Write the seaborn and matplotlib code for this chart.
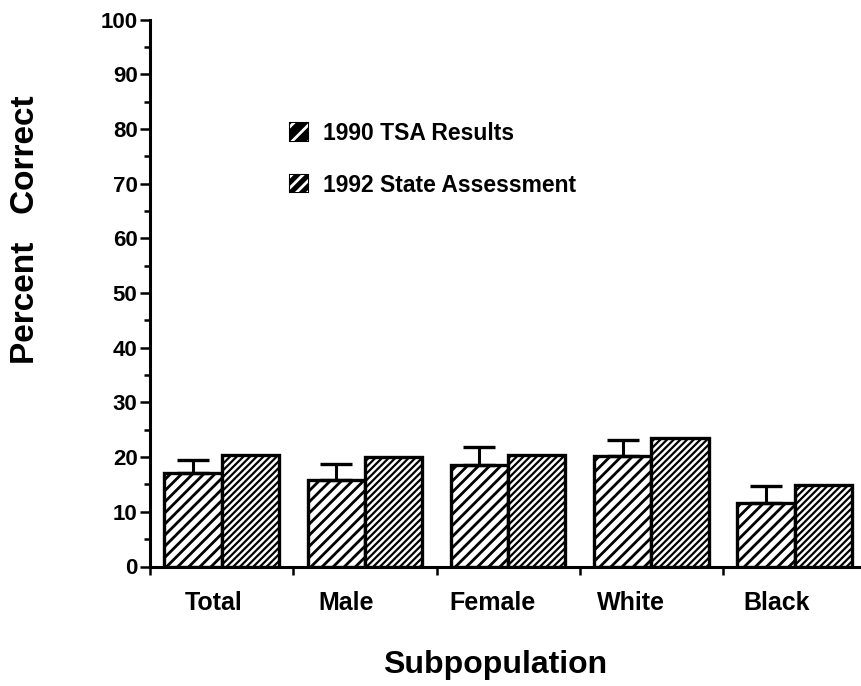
import numpy as np
import pandas as pd
import matplotlib
matplotlib.use("Agg")
import matplotlib.pyplot as plt
from matplotlib.patches import Patch
from matplotlib.legend_handler import HandlerTuple
from matplotlib.ticker import MultipleLocator, FixedLocator
import matplotlib.transforms as mtransforms
import seaborn as sns

# Percent correct by subpopulation
groups = ["Total", "Male", "Female", "White", "Black"]
series = ["1990 TSA Results", "1992 State Assessment"]
tsa_1990 = [17.1, 15.9, 18.6, 20.2, 11.7]
state_1992 = [20.3, 20.0, 20.4, 23.5, 14.9]
tsa_1990_err = [2.4, 2.9, 3.3, 3.0, 3.1]

df = pd.DataFrame({
    "Subpopulation": groups * 2,
    "Series": [series[0]] * len(groups) + [series[1]] * len(groups),
    "Percent": tsa_1990 + state_1992,
})

sns.set_style("ticks")
plt.rcParams["font.family"] = ["Liberation Sans", "DejaVu Sans"]
plt.rcParams["font.weight"] = "bold"
for key in ["text.color", "axes.labelcolor", "xtick.color", "ytick.color", "axes.edgecolor"]:
    plt.rcParams[key] = "black"
plt.rcParams["hatch.linewidth"] = 2.0


def set_hatch(patch, pattern, lw):
    patch.set_hatch(pattern)
    if hasattr(patch, "set_hatch_linewidth"):
        patch.set_hatch_linewidth(lw)


fig = plt.figure(figsize=(8.62, 6.86), dpi=100)
ax = fig.add_axes([150 / 862, 1 - 566.5 / 686, 1 - 150 / 862, (566.5 - 19.5) / 686])

sns.barplot(data=df, x="Subpopulation", y="Percent", hue="Series",
            order=groups, hue_order=series, palette=["white", "white"],
            edgecolor="black", linewidth=2.4, errorbar=None, width=0.8,
            legend=False, ax=ax)

hatches = ["///", "/////"]
hatch_lw = [2.0, 1.6]
for cont, h, hl in zip(ax.containers, hatches, hatch_lw):
    for p in cont:
        set_hatch(p, h, hl)

# one-sided error bars on the 1990 bars
xs = [p.get_x() + p.get_width() / 2 for p in ax.containers[0]]
ax.errorbar(xs, tsa_1990, yerr=[np.zeros(len(tsa_1990_err)), tsa_1990_err],
            fmt="none", ecolor="black", elinewidth=2.2, capsize=11.5,
            capthick=2.4, zorder=1)

ax.set_ylim(0, 100)
ax.set_xlim(-0.5, 4.47)
ax.yaxis.set_major_locator(MultipleLocator(10))
ax.yaxis.set_minor_locator(MultipleLocator(5))
ax.tick_params(axis="y", which="major", length=7, width=1.8, labelsize=16, pad=2)
ax.tick_params(axis="y", which="minor", length=4, width=1.8)

# ticks at group boundaries, labels at group centres
ax.xaxis.set_major_locator(FixedLocator(np.arange(-0.5, 4.6, 1.0)))
ax.xaxis.set_minor_locator(FixedLocator(np.arange(len(groups))))
ax.set_xticklabels([""] * 6)
ax.set_xticklabels(groups, minor=True)
ax.tick_params(axis="x", which="major", length=6, width=1.8)
ax.tick_params(axis="x", which="minor", length=0, labelsize=18, pad=18)
shifts = [-8, -19, -16, -20, -18]
for lab, dx in zip(ax.get_xticklabels(minor=True), shifts):
    lab.set_transform(lab.get_transform() +
                      mtransforms.ScaledTranslation(dx / 100, 0, fig.dpi_scale_trans))

for lab in ax.get_yticklabels() + ax.get_xticklabels(minor=True):
    lab.set_fontweight("bold")

for s in ["top", "right"]:
    ax.spines[s].set_visible(False)
for s in ["left", "bottom"]:
    ax.spines[s].set_linewidth(2.2)

ax.set_xlabel("Subpopulation", fontsize=23, fontweight="bold")
ax.set_ylabel("Percent   Correct", fontsize=24, fontweight="bold")
ax.xaxis.set_label_coords((495 - 150) / 712, -(665 - 566.5) / 547, transform=ax.transAxes)
ax.xaxis.label.set_va("center")
ax.yaxis.set_label_coords(-(150 - 25) / 712, (566.5 - 230) / 547, transform=ax.transAxes)
ax.yaxis.label.set_va("center")


# legend keys: solid black squares cut by white diagonal stripes
def legend_key(pattern):
    base = Patch(facecolor="black", edgecolor="black", linewidth=1.5)
    stripes = Patch(facecolor="none", edgecolor="white", linewidth=0)
    stripes.set_hatch(pattern)
    return (base, stripes)


handles = [legend_key("//"), legend_key("///")]
leg = ax.legend(handles, series, loc="upper left",
                handler_map={tuple: HandlerTuple(ndivide=1, pad=0)},
                bbox_to_anchor=(290 / 862, 1 - 122 / 686), bbox_transform=fig.transFigure,
                frameon=False, fontsize=16.5, handlelength=0.8, handleheight=0.8,
                handletextpad=0.65, labelspacing=1.25, borderpad=0, borderaxespad=0)
for t in leg.get_texts():
    t.set_fontweight("bold")

fig.savefig("out.png", dpi=100)
